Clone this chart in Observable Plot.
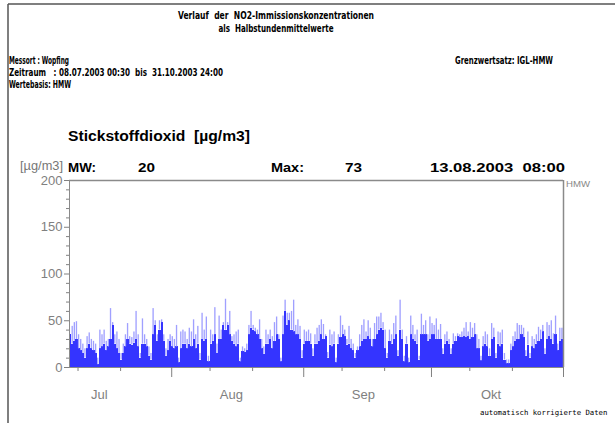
<!DOCTYPE html>
<html><head><meta charset="utf-8">
<script src="https://cdn.jsdelivr.net/npm/d3@7"></script>
<script src="https://cdn.jsdelivr.net/npm/@observablehq/plot@0.6"></script>
<style>body{margin:0;background:#fff;} svg{display:block}</style>
</head><body><div id="chart"></div>
<script>
// Half-day (12 h) envelope of the half-hourly NO2 values
const peakValues = [
 35,44,48,49,35,30,25,20,33,37, 30,28,25,10,40,35,40,28,30,63, 48,35,38,30,15,25,35,47,33,32, 38,60,35,15,52,35,30,22,15,63, 50,35,50,51,35,20,30,
 35,33,30,45,10,38,40,38,30,42, 38,51,35,44,15,58,40,54,12,40, 35,64,25,55,40,48,73,48,60,33, 35,38,40,10,22,20,25,45,60,45, 42,40,51,30,22,40,35,
 40,33,48,54,35,10,55,72,58,58, 60,72,45,51,44,18,40,38,40,36, 20,35,42,45,51,46,35,16,40,35, 38,10,35,55,45,40,30,44,30,25, 15,22,35,45,51,38,50,42,
 30,47,54,54,58,48,40,15,40,35, 47,55,18,72,40,12,33,10,55,45, 35,40,12,57,45,50,35,54,47,45, 52,40,46,20,35,38,30,20,36,33, 36,35,38,42,48,38,
 48,42,47,35,30,12,33,38,35,20, 47,42,15,38,37,40,15,8,8,25, 33,38,47,45,45,42,18,38,15,33, 30,35,43,40,45,20,48,45,50,36, 55,25,42,42
];
const coreValues = [
 35,25,28,30,20,18,15,10,20,25, 20,18,15,3,20,22,25,18,22,30, 45,25,20,15,8,15,22,30,25,24, 26,30,22,10,25,25,22,12,8,35, 45,28,40,48,28,12,18,
 28,22,20,22,5,20,25,25,20,25, 22,30,20,25,8,30,28,30,6,25, 28,35,15,30,30,45,40,45,35,28, 25,22,25,6,17,16,18,35,42,40, 38,35,30,20,14,25,25,
 30,20,28,35,30,6,35,60,45,50, 40,38,35,35,30,10,25,28,28,25, 12,25,25,28,35,30,33,10,24,22, 25,5,25,32,35,33,24,25,20,18, 10,18,22,28,30,30,33,30,
 22,30,35,40,42,40,20,10,28,25, 30,35,12,40,30,6,25,5,35,30, 28,25,8,35,35,35,28,30,35,35, 30,30,30,14,25,28,25,14,25,28, 33,32,32,33,32,33,
 30,32,35,20,20,7,22,25,22,12, 30,32,10,25,22,25,8,4,4,18, 22,28,30,30,35,32,12,24,10,22, 20,25,28,30,38,14,30,33,30,25, 35,18,28,30
];
const seriesStart = "2003-07-08T00:00Z";
const seriesEnd = "2003-11-01T00:00Z";
const monthLabels = ["Jul","Aug","Sep","Okt"];
const monthLabelDates = ["2003-07-15","2003-08-15","2003-09-15","2003-10-15"];
const monthTickDates = ["2003-08-01","2003-09-01","2003-10-01","2003-11-01"];
const minorTickDates = ["2003-07-10","2003-07-20","2003-08-10","2003-08-20","2003-09-10","2003-09-20","2003-10-10","2003-10-20"];
const yTicks = [0,50,100,150,200];
const yMinorTicks = [10,20,30,40,60,70,80,90,110,120,130,140,160,170,180,190];

const t0 = new Date(seriesStart).getTime(), HALF = 12*3600e3;
const rows = peakValues.map((p,i)=>({t1:new Date(t0+i*HALF), t2:new Date(t0+(i+1)*HALF), peak:p, core:coreValues[i]}));
const labelRows = monthLabels.map((m,i)=>({date:new Date(monthLabelDates[i]), label:m}));
const grey = "#8a8a8a";

const chart = Plot.plot({
  width:615, height:423, marginLeft:69, marginRight:52, marginTop:180, marginBottom:56,
  style:{fontFamily:"'Liberation Sans', Arial, sans-serif", background:"white", overflow:"visible"},
  x:{type:"utc", domain:[new Date(seriesStart), new Date(seriesEnd)]},
  y:{domain:[0,200]},
  marks:[
    Plot.rectY(rows,{x1:"t1",x2:"t2",y:"core",fill:"#3434ff",inset:0,shapeRendering:"crispEdges"}),
    Plot.rectY(rows,{x1:"t1",x2:"t2",y1:"core",y2:"peak",fill:"#a0a0ff",insetLeft:0.4,insetRight:0.4}),
    Plot.ruleY([200],{stroke:grey,strokeWidth:1.5}),
    Plot.ruleY([0],{stroke:grey}),
    Plot.ruleX([new Date(seriesStart)],{stroke:grey}),
    Plot.ruleX([new Date(seriesEnd)],{stroke:grey,strokeWidth:1.5}),
    Plot.axisY({ticks:yTicks,tickSize:5,tickPadding:2,color:"#808080",fontSize:13,label:null}),
    Plot.axisY({ticks:yMinorTicks,tickSize:3,tickFormat:()=>"",color:"#808080",label:null}),
    Plot.axisX({ticks:monthTickDates.map(d=>new Date(d)),tickSize:10,tickFormat:()=>"",color:"#808080",label:null}),
    Plot.axisX({ticks:minorTickDates.map(d=>new Date(d)),tickSize:4,tickFormat:()=>"",color:"#808080",label:null}),
    Plot.text(labelRows,{x:"date",text:"label",frameAnchor:"bottom",dy:27,fill:"#808080",fontSize:13,lineAnchor:"middle"})
  ]
});
document.getElementById("chart").append(chart);

// header / annotation texts
const svg = d3.select(chart);
const g = svg.append("g");
const cond = "'Liberation Sans Narrow','DejaVu Sans Condensed','Liberation Sans',sans-serif";
function txt(x,y,s,o={}){
  const t = g.append("text").attr("x",x).attr("y",y).attr("dy","0.35em")
    .attr("font-family",o.family||cond).attr("font-size",o.size||10)
    .attr("font-weight",o.weight||"bold").attr("fill",o.fill||"#000")
    .attr("text-anchor",o.anchor||"start").style("white-space","pre").text(s);
  if(o.len){t.attr("textLength",o.len).attr("lengthAdjust","spacingAndGlyphs");}
  return t;
}
g.append("line").attr("x1",8).attr("x2",8).attr("y1",4).attr("y2",423).attr("stroke","#555").attr("stroke-width",1.5);
g.append("line").attr("x1",8).attr("x2",615).attr("y1",4).attr("y2",4).attr("stroke","#555").attr("stroke-width",1.5);
txt(276,15,"Verlauf  der  NO2-Immissionskonzentrationen",{size:11,anchor:"middle",len:196});
txt(276,28,"als  Halbstundenmittelwerte",{size:11,anchor:"middle",len:115});
txt(9,60,"Messort : Wopfing",{size:10,len:60});
txt(9,72,"Zeitraum   : 08.07.2003 00:30  bis  31.10.2003 24:00",{size:10,len:214});
txt(9,84,"Wertebasis: HMW",{size:10,len:62});
txt(455,60,"Grenzwertsatz: IGL-HMW",{size:10,len:98});
const arial = "'Liberation Sans', Arial, sans-serif";
txt(68,136,"Stickstoffdioxid  [µg/m3]",{size:14,family:arial,len:182});
txt(20,166,"[µg/m3]",{size:12,family:arial,weight:"normal",fill:"#777",len:43});
txt(68,167,"MW:",{size:13,family:arial,len:28});
txt(138,167,"20",{size:13,family:arial,len:17});
txt(271,167,"Max:",{size:13,family:arial,len:33});
txt(345,167,"73",{size:13,family:arial,len:17});
txt(430,167,"13.08.2003  08:00",{size:13,family:arial,len:135});
txt(566,184,"HMW",{size:9,family:arial,weight:"normal",fill:"#888",len:24});
txt(480,412,"automatisch korrigierte Daten",{size:7.3,family:"'DejaVu Sans Mono','Liberation Mono',monospace",weight:"normal"});
</script></body></html>
